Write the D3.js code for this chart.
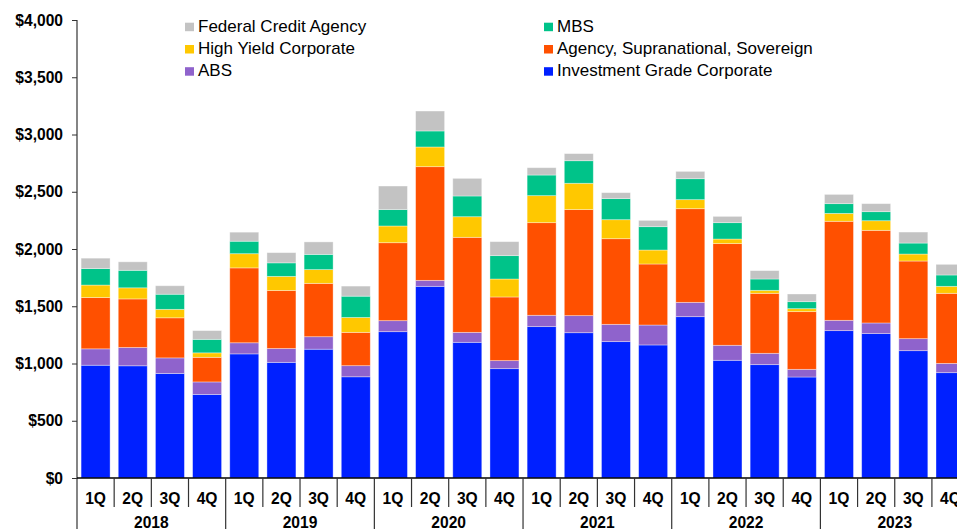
<!DOCTYPE html>
<html>
<head>
<meta charset="utf-8">
<script src="https://cdn.jsdelivr.net/npm/d3@7"></script>
<style>
  html, body { margin: 0; padding: 0; background: #fff; overflow: hidden; }
  svg { display: block; font-family: Arial, "Liberation Sans", sans-serif; }
</style>
</head>
<body>
<svg id="chart" width="957" height="529"></svg>
<script>
// ---- data ----
const years = ["2018", "2019", "2020", "2021", "2022", "2023"];
const quarters = ["1Q", "2Q", "3Q", "4Q"];
const seriesNames = ["Investment Grade Corporate", "ABS", "Agency, Supranational, Sovereign", "High Yield Corporate", "MBS", "Federal Credit Agency"];
const seriesColors = ["#0020FF", "#8F63CC", "#FF5000", "#FFC800", "#00C389", "#C3C3C3"];

const investmentGrade = [985, 980, 913, 730, 1084, 1010, 1125, 884, 1278, 1674, 1185, 955, 1322, 1269, 1191, 1162, 1409, 1028, 990, 882, 1287, 1261, 1112, 920];
const abs            = [143, 160, 136, 109, 97, 121, 109, 97, 96, 52, 87, 70, 99, 149, 151, 174, 125, 131, 99, 67, 90, 93, 105, 81];
const agencySupra    = [448, 424, 350, 215, 654, 507, 466, 291, 681, 993, 830, 556, 809, 926, 748, 533, 818, 888, 524, 504, 865, 809, 678, 612];
const highYield      = [109, 97, 74, 39, 124, 123, 120, 130, 146, 172, 180, 157, 236, 230, 166, 122, 79, 40, 26, 26, 69, 84, 61, 61];
const mbs            = [144, 153, 132, 118, 109, 118, 133, 186, 143, 140, 181, 204, 180, 197, 184, 204, 183, 143, 99, 61, 85, 79, 96, 99];
const federalCredit  = [91, 74, 74, 76, 79, 89, 109, 88, 206, 174, 154, 122, 64, 62, 52, 55, 64, 55, 73, 67, 81, 70, 96, 93];

const yTicks = [0, 500, 1000, 1500, 2000, 2500, 3000, 3500, 4000];

const legendLeft = ["Federal Credit Agency", "High Yield Corporate", "ABS"];
const legendRight = ["MBS", "Agency, Supranational, Sovereign", "Investment Grade Corporate"];

// ---- build table ----
const seriesArrays = [investmentGrade, abs, agencySupra, highYield, mbs, federalCredit];
const periods = [];
years.forEach(yv => quarters.forEach(q => periods.push(yv + "-" + q)));
const table = periods.map((p, i) => {
  const row = { period: p };
  seriesNames.forEach((s, j) => row[s] = seriesArrays[j][i]);
  return row;
});

// ---- layout ----
const svg = d3.select("#chart");
const plotLeft = 77, plotTop = 20, plotBottom = 478, stepW = 37.17;
const plotRight = plotLeft + stepW * periods.length;

const x = d3.scaleBand().domain(periods).range([plotLeft, plotRight]).paddingInner(0.22).paddingOuter(0.11);
const y = d3.scaleLinear().domain([0, 4000]).range([plotBottom, plotTop]);
const color = d3.scaleOrdinal().domain(seriesNames).range(seriesColors);

const stacked = d3.stack().keys(seriesNames)(table);

// bars
svg.append("g").selectAll("g").data(stacked).join("g")
  .attr("fill", d => color(d.key))
  .selectAll("rect").data(d => d).join("rect")
  .attr("x", d => x(d.data.period))
  .attr("width", x.bandwidth())
  .attr("y", d => y(d[1]))
  .attr("height", d => y(d[0]) - y(d[1]))
  .attr("stroke", "#ffffff")
  .attr("stroke-opacity", 0.45)
  .attr("stroke-width", 0.8);

// y axis
const yAxis = d3.axisLeft(y).tickValues(yTicks)
  .tickFormat(d => "$" + d3.format(",")(d))
  .tickSize(5).tickSizeOuter(0).tickPadding(9);
const gy = svg.append("g").attr("transform", `translate(${plotLeft},0)`).call(yAxis);
gy.select(".domain").remove();
gy.selectAll(".tick line").attr("stroke", "#333");
gy.selectAll(".tick text").attr("font-size", 15.6).attr("font-weight", "bold").attr("fill", "#000")
  .attr("font-family", "Arial, 'Liberation Sans', sans-serif");
svg.append("line").attr("x1", plotLeft).attr("x2", plotLeft).attr("y1", plotTop).attr("y2", 529)
  .attr("stroke", "#333").attr("stroke-width", 1.2);

// x axis baseline
svg.append("line").attr("x1", plotLeft).attr("x2", plotRight).attr("y1", plotBottom).attr("y2", plotBottom)
  .attr("stroke", "#000").attr("stroke-width", 1.5);

// quarter dividers and labels
const gx = svg.append("g");
periods.forEach((p, i) => {
  const bx = x(p) - x.step() * x.paddingInner() / 2;
  if (i > 0) {
    const isYear = i % 4 === 0;
    gx.append("line").attr("x1", bx).attr("x2", bx).attr("y1", plotBottom).attr("y2", isYear ? 529 : 507)
      .attr("stroke", "#333").attr("stroke-width", 1.2);
  }
  gx.append("text").attr("x", x(p) + x.bandwidth() / 2).attr("y", 504)
    .attr("text-anchor", "middle")
    .attr("font-size", 15.6).attr("font-weight", "bold").text(quarters[i % 4]);
});
years.forEach((yr, k) => {
  const x0 = x(periods[k * 4]) - x.step() * x.paddingInner() / 2;
  gx.append("text").attr("x", x0 + x.step() * 2).attr("y", 527.5)
    .attr("text-anchor", "middle")
    .attr("font-size", 15.6).attr("font-weight", "bold").text(yr);
});

// legend
const legendBaselines = [31.7, 54, 76.2];
function drawLegend(names, sx) {
  names.forEach((n, r) => {
    svg.append("rect").attr("x", sx).attr("y", legendBaselines[r] - 9).attr("width", 9).attr("height", 8.5)
      .attr("fill", color(n));
    svg.append("text").attr("x", sx + 13).attr("y", legendBaselines[r])
      .attr("font-size", 17).attr("fill", "#000").text(n);
  });
}
drawLegend(legendLeft, 185);
drawLegend(legendRight, 544);
</script>
</body>
</html>
